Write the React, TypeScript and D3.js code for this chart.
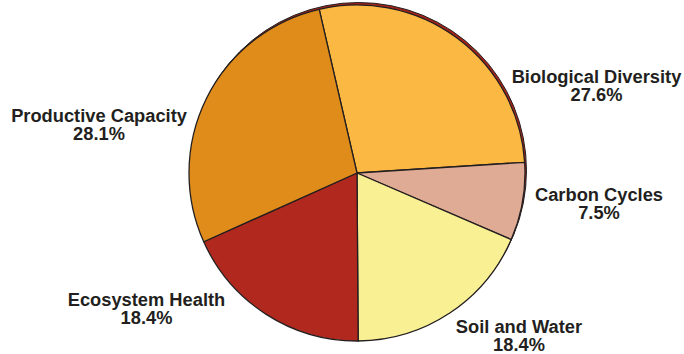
import React, { useEffect, useRef } from "react";
import * as d3 from "d3";

const categories = [
  "Biological Diversity",
  "Carbon Cycles",
  "Soil and Water",
  "Ecosystem Health",
  "Productive Capacity",
];
const shares = [27.6, 7.5, 18.4, 18.4, 28.1];
const sliceColors = ["#FBB843", "#DFAB94", "#F9EF93", "#B0281E", "#E08C1A"];
// first-line baseline of each label, relative to the pie centre
const labelAnchors: [number, number][] = [
  [239.5, -90.5],
  [242, 28],
  [162, 159.5],
  [-210.5, 133],
  [-258, -51],
];

const width = 684;
const height = 354;

const PieChart: React.FC = () => {
  const svgRef = useRef<SVGSVGElement>(null);

  useEffect(() => {
    document.body.style.margin = "0";
    document.body.style.overflow = "hidden";
    if (!svgRef.current) return;
    const svg = d3.select(svgRef.current);
    svg.selectAll("*").remove();

    const cx = 357;
    const cy = 173;
    const r = 168;
    const ink = "#231F20";

    const g = svg.append("g").attr("transform", `translate(${cx},${cy})`);

    // dark rim peeking out at the top right
    g.append("circle")
      .attr("cx", 1.5)
      .attr("cy", -2.5)
      .attr("r", r)
      .attr("fill", "#A3231B")
      .attr("stroke", ink)
      .attr("stroke-width", 1);

    const pie = d3
      .pie<number>()
      .sort(null)
      .value((d) => d)
      .startAngle((-13 * Math.PI) / 180)
      .endAngle((347 * Math.PI) / 180);

    const arc = d3.arc<d3.PieArcDatum<number>>().innerRadius(0).outerRadius(r);

    g.selectAll("path.slice")
      .data(pie(shares))
      .enter()
      .append("path")
      .attr("class", "slice")
      .attr("d", arc)
      .attr("fill", (_, i) => sliceColors[i])
      .attr("stroke", ink)
      .attr("stroke-width", 1.3)
      .attr("stroke-linejoin", "round");

    const labels = g
      .selectAll("text.label")
      .data(categories)
      .enter()
      .append("text")
      .attr("class", "label")
      .attr("text-anchor", "middle")
      .attr("font-family", "Liberation Sans, Arial, sans-serif")
      .attr("font-weight", "bold")
      .attr("font-size", 18.3)
      .attr("fill", ink);

    labels
      .append("tspan")
      .attr("x", (_, i) => labelAnchors[i][0])
      .attr("y", (_, i) => labelAnchors[i][1])
      .text((d) => d);

    labels
      .append("tspan")
      .attr("x", (_, i) => labelAnchors[i][0])
      .attr("y", (_, i) => labelAnchors[i][1] + 18)
      .text((_, i) => `${shares[i].toFixed(1)}%`);
  }, []);

  return (
    <svg
      ref={svgRef}
      width={width}
      height={height}
      style={{ position: "absolute", left: 0, top: 0, display: "block" }}
    />
  );
};

export default function App() {
  return <PieChart />;
}
